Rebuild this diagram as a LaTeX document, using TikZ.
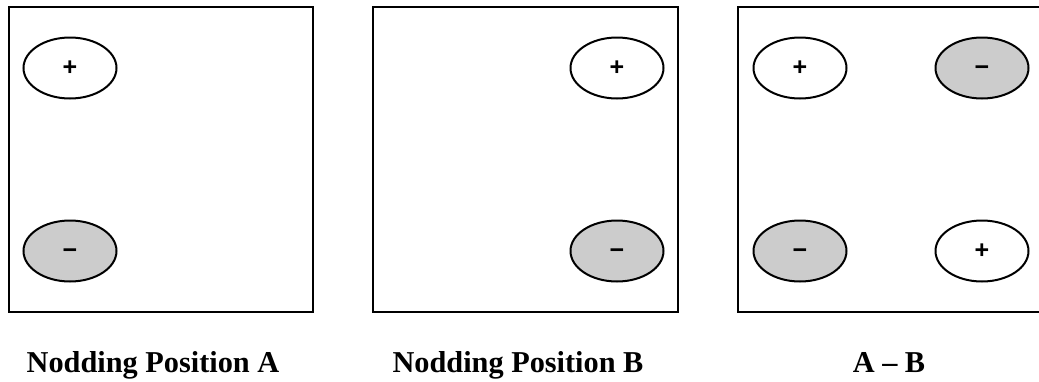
\documentclass[tikz,border=0pt]{standalone}
\usepackage{fontspec}
\setmainfont{Liberation Serif}
\newfontfamily\signfont{Liberation Sans}
\usetikzlibrary{shapes.geometric,positioning}
\tikzset{
  frame/.style  ={draw,line width=2.2pt},
  spot/.style   ={ellipse,draw,line width=2pt,minimum width=93pt,minimum height=61pt,inner sep=0pt,font=\signfont\bfseries\fontsize{25}{25}\selectfont},
  plusspot/.style ={spot,fill=white},
  minusspot/.style={spot,fill=gray!40},
  caption/.style={anchor=base,font=\bfseries\fontsize{30.3}{32}\selectfont},
}
\newcommand{\minussign}{\vphantom{+}\textminus}
\begin{document}
\begin{tikzpicture}[x=1pt,y=-1pt]
  \useasboundingbox (0,0) rectangle (1039,381);
  \clip (0,0) rectangle (1039,381);
  % three frames
  \draw[frame] (9,7) rectangle (313,312);
  \draw[frame] (373,7) rectangle (678,312);
  \draw[frame] (738,7) rectangle (1043,312);
  % nodding position A
  \node[plusspot] (Ap) at (70,68) {+};
  \node[minusspot] (Am) at (70,251) {\minussign};
  \node[caption] (capA) at (153,372) {Nodding Position A};
  % nodding position B
  \node[plusspot] (Bp) at (617,68) {+};
  \node[minusspot] (Bm) at (617,251) {\minussign};
  \node[caption] (capB) at (518,372) {Nodding Position B};
  % difference A - B
  \node[plusspot] (Dp1) at (800,68) {+};
  \node[minusspot] (Dm1) at (982,68) {\minussign};
  \node[minusspot] (Dm2) at (800,251) {\minussign};
  \node[plusspot] (Dp2) at (982,251) {+};
  \node[caption] (capD) at (889,372) {A \textendash\ B};
\end{tikzpicture}
\end{document}
